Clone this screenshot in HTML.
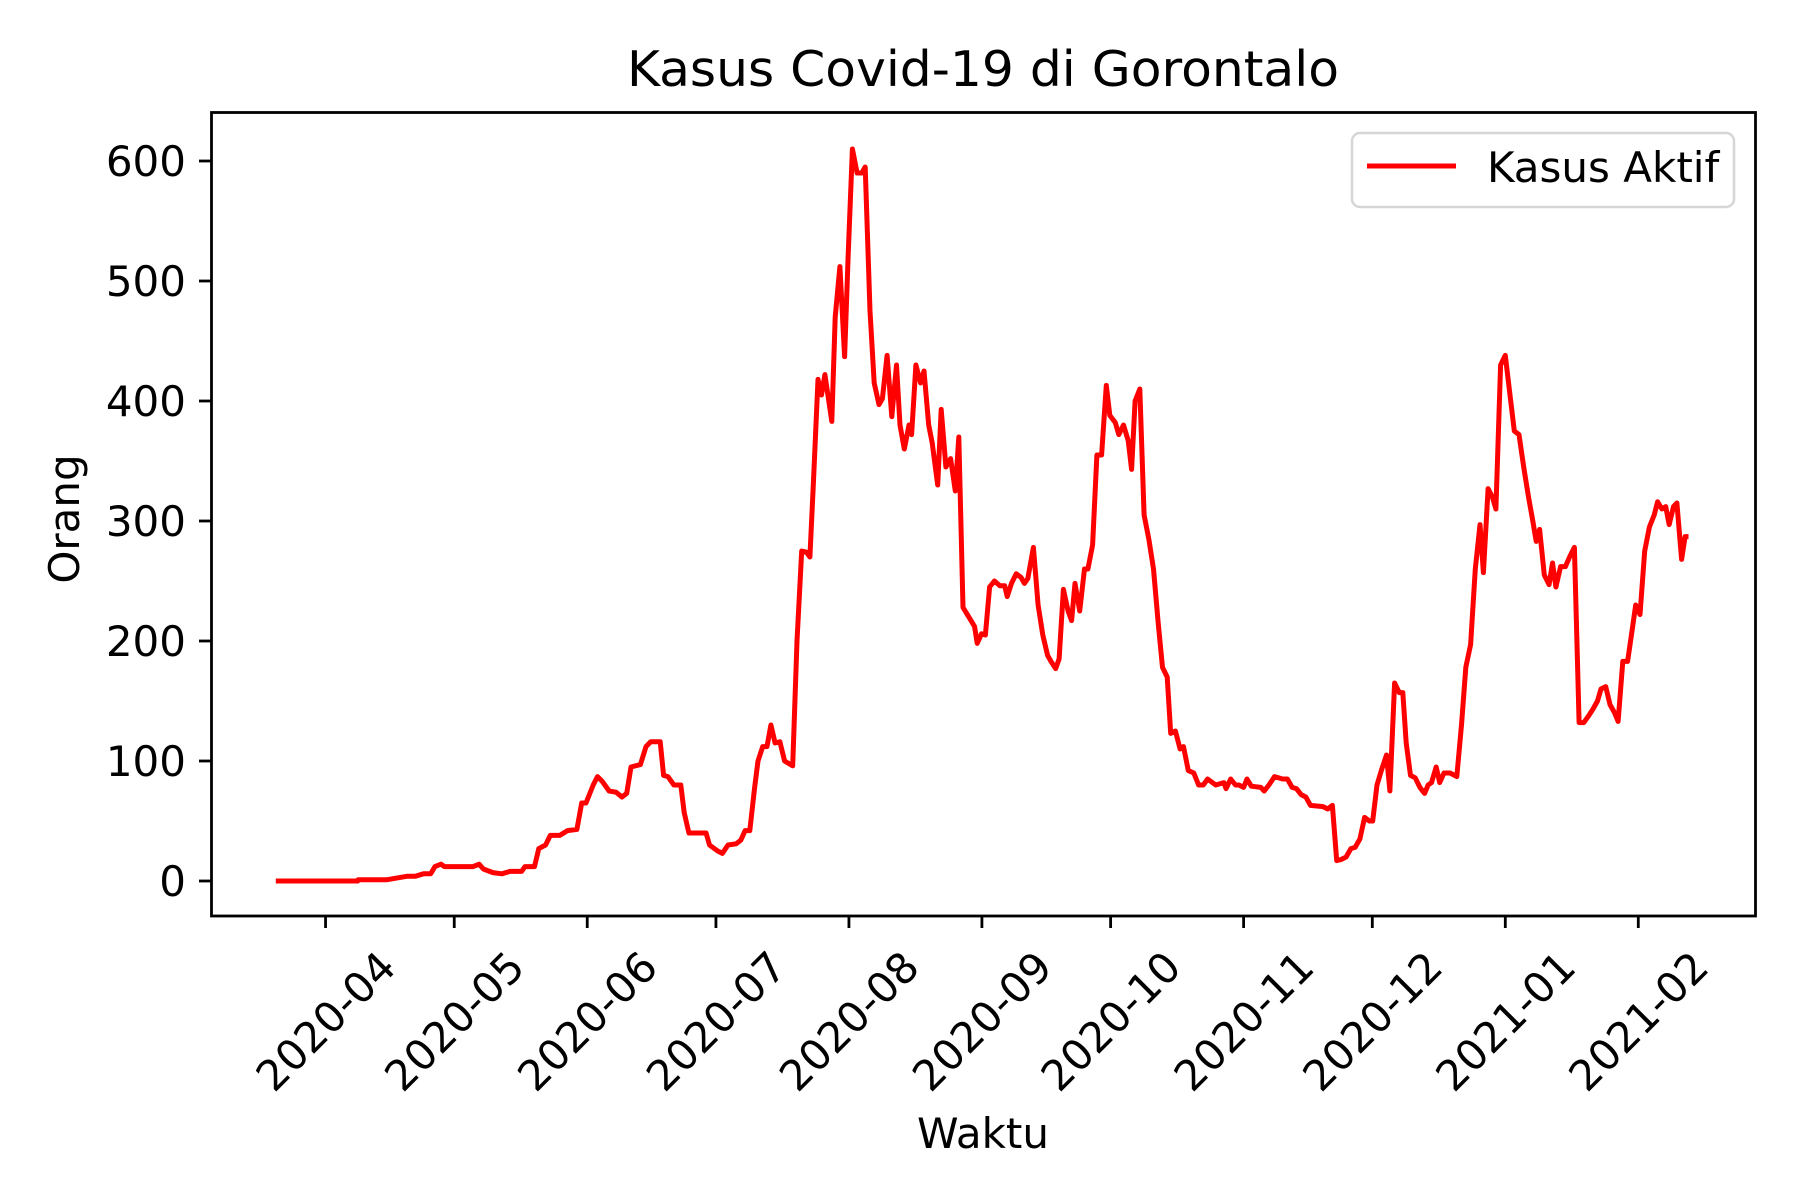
<!DOCTYPE html>
<html><head><meta charset="utf-8"><style>
html,body{margin:0;padding:0;background:#fff;}
svg{display:block;font-family:"DejaVu Sans","Liberation Sans",sans-serif;}
</style></head><body>
<svg id="chart" width="1800" height="1200" viewBox="0 0 1800 1200" xmlns="http://www.w3.org/2000/svg">
<rect x="0" y="0" width="1800" height="1200" fill="#fff"/>
<text x="983" y="86" font-size="49" text-anchor="middle" textLength="712" lengthAdjust="spacingAndGlyphs">Kasus Covid-19 di Gorontalo</text>
<g id="yticks"></g>
<g id="xticks"></g>
<clipPath id="clip"><rect x="211" y="112" width="1545" height="804"/></clipPath>
<g clip-path="url(#clip)"><path id="line" fill="none" stroke="#ff0000" stroke-width="5" stroke-linejoin="round"/></g>
<rect x="211.5" y="112.5" width="1544" height="803.5" fill="none" stroke="#000" stroke-width="2.8"/>
<text x="983" y="1148" font-size="42" text-anchor="middle">Waktu</text>
<text x="0" y="0" font-size="42" text-anchor="middle" transform="translate(79,519) rotate(-90)">Orang</text>
<g>
<rect x="1352" y="133" width="382" height="74" rx="8" fill="#fff" fill-opacity="0.8" stroke="#d6d6d6" stroke-width="2.5"/>
<line x1="1367" y1="166" x2="1456" y2="166" stroke="#ff0000" stroke-width="5"/>
<text x="1487" y="182" font-size="42">Kasus Aktif</text>
</g>
</svg>
<script>
// days since 2020-03-01
const days = [19.4,38.5,38.6,45.2,50.1,52.0,53.8,55.5,56.5,57.9,58.7,65.4,66.8,67.8,70.0,72.1,74.0,76.7,77.5,79.7,80.7,82.3,83.4,85.6,87.4,89.6,90.7,91.7,93.4,94.4,95.5,97.1,98.7,100.1,101.2,102.2,104.4,105.7,106.8,109.0,109.8,110.8,112.2,113.8,114.6,115.7,119.7,120.5,122.4,123.5,124.8,126.7,127.8,128.8,129.9,131.0,131.8,132.9,133.9,134.8,135.8,136.9,138.0,139.9,140.9,142.0,143.1,143.9,144.7,145.8,146.6,147.4,149.0,149.8,150.9,152.0,152.8,153.8,154.9,156.0,156.8,157.9,158.9,160.0,160.8,161.9,163.0,164.1,164.9,165.9,167.0,167.6,168.6,169.7,170.5,171.6,172.4,173.7,174.5,175.6,176.7,177.8,178.6,179.6,181.3,182.3,182.9,183.9,184.8,185.8,186.9,188.2,189.3,189.9,190.9,192.0,193.1,193.9,194.7,196.0,197.1,198.2,199.3,200.1,201.2,202.0,203.0,204.1,204.9,205.7,206.8,207.9,208.7,209.8,210.8,211.9,213.0,213.8,215.1,215.9,217.0,218.1,218.9,219.7,220.8,221.8,222.9,224.0,225.1,226.1,227.2,228.0,229.1,230.2,231.0,232.1,233.4,234.5,235.6,236.6,238.5,240.4,240.9,242.0,243.1,243.9,245.0,245.8,246.8,249.0,249.8,250.9,252.2,254.1,255.2,256.3,257.3,258.4,259.5,260.6,263.5,264.6,265.7,266.7,267.8,268.9,270.0,271.0,272.1,273.2,274.3,275.1,276.1,277.2,278.3,279.1,280.2,281.3,282.1,282.9,283.9,285.0,286.1,287.2,288.0,288.8,289.9,290.7,291.7,293.1,294.7,295.8,296.8,297.9,299.0,300.1,300.9,302.0,303.0,303.8,304.9,306.0,307.1,308.1,309.2,310.3,311.4,312.4,313.2,314.0,315.1,316.2,317.0,317.8,318.9,320.0,321.0,322.1,323.2,324.3,325.3,326.4,327.5,328.3,329.4,330.4,331.5,332.3,333.4,334.5,335.6,336.4,337.4,338.5,339.6,340.7,341.5,342.5,343.4,344.2,345.2,346.0,347.1,347.9,348.7];
const values = [0,0,1,1,4,4,6,6,12,14,12,12,14,10,7,6,8,8,12,12,27,30,38,38,42,43,65,65,80,87,83,75,74,70,73,95,97,112,116,116,88,87,80,80,57,40,40,30,25,23,30,31,34,42,42,77,100,112,112,130,115,116,100,96,200,275,274,270,330,418,405,422,383,470,512,437,520,610,590,590,595,475,415,397,402,438,387,430,380,360,380,372,430,415,425,380,365,330,393,345,352,325,370,228,218,212,198,206,205,245,250,246,246,237,248,256,253,248,252,278,230,205,188,183,177,185,243,225,217,248,225,260,260,280,355,355,413,388,382,372,380,367,343,400,410,305,285,260,215,178,170,123,125,110,112,92,90,80,80,85,80,82,77,85,80,80,78,85,79,78,75,80,87,85,85,78,77,72,70,63,62,60,63,17,18,20,27,28,35,53,50,50,80,93,105,75,165,157,157,115,88,86,78,73,80,82,95,82,90,90,87,130,178,197,260,297,257,327,320,310,430,438,405,375,372,345,320,300,283,293,255,247,265,245,262,262,270,278,132,132,137,143,150,160,162,147,140,133,183,183,210,230,222,275,295,305,316,310,312,297,312,315,268,287,287];
const yTicks = [0,100,200,300,400,500,600];
const xTickLabels = ["2020-04","2020-05","2020-06","2020-07","2020-08","2020-09","2020-10","2020-11","2020-12","2021-01","2021-02"];
const xTickDays = [31,61,92,122,153,184,214,245,275,306,337];

const NS = "http://www.w3.org/2000/svg";
function xs(d){ return 1505.3 + (d - 306) * 4.29; }
function ys(v){ return 881 - v * 1.2; }

let dstr = "";
for (let i = 0; i < days.length; i++) {
  dstr += (i ? "L" : "M") + xs(days[i]).toFixed(1) + "," + ys(values[i]).toFixed(1);
}
document.getElementById("line").setAttribute("d", dstr);

const yg = document.getElementById("yticks");
yTicks.forEach(v => {
  const y = ys(v);
  const t = document.createElementNS(NS, "line");
  t.setAttribute("x1", 199); t.setAttribute("x2", 211);
  t.setAttribute("y1", y); t.setAttribute("y2", y);
  t.setAttribute("stroke", "#000"); t.setAttribute("stroke-width", 2.8);
  
  
  yg.appendChild(t);
  const l = document.createElementNS(NS, "text");
  l.setAttribute("x", 186); l.setAttribute("y", y + 15);
  l.setAttribute("font-size", 42); l.setAttribute("text-anchor", "end");
  l.textContent = v;
  
  
  yg.appendChild(l);
});

const xg = document.getElementById("xticks");
xTickLabels.forEach((lab, i) => {
  const x = xs(xTickDays[i]);
  const t = document.createElementNS(NS, "line");
  t.setAttribute("x1", x); t.setAttribute("x2", x);
  t.setAttribute("y1", 916); t.setAttribute("y2", 928);
  t.setAttribute("stroke", "#000"); t.setAttribute("stroke-width", 2.8);
  
  
  xg.appendChild(t);
  const l = document.createElementNS(NS, "text");
  l.setAttribute("x", 0); l.setAttribute("y", 15);
  l.setAttribute("font-size", 42); l.setAttribute("text-anchor", "middle");
  l.setAttribute("transform", "translate(" + x + ",1021) rotate(-45)");
  l.textContent = lab;
  
  
  xg.appendChild(l);
});
</script>
</body></html>
